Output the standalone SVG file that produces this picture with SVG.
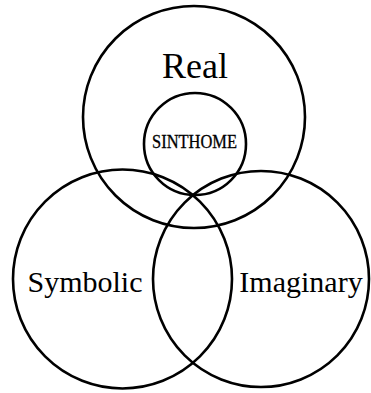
<svg xmlns="http://www.w3.org/2000/svg" width="371" height="393" viewBox="0 0 371 393">
<style>
.c{fill:none;stroke:#000;stroke-width:2.6}
.t{font-family:"Liberation Serif","DejaVu Serif",serif;fill:#000;text-anchor:middle}
</style>
<rect width="371" height="393" fill="#fff"/>
<g id="real"><circle class="c" cx="194" cy="117" r="111"/><text class="t" x="195" y="78" font-size="36">Real</text></g>
<g id="symbolic"><circle class="c" cx="122.5" cy="279" r="109.5"/><text class="t" x="85" y="292" font-size="30">Symbolic</text></g>
<g id="imaginary"><circle class="c" cx="261" cy="279" r="108"/><text class="t" x="301" y="292" font-size="30">Imaginary</text></g>
<g id="sinthome"><circle class="c" cx="195" cy="144" r="51"/><text class="t" x="194.5" y="148" font-size="18.5" textLength="85" lengthAdjust="spacingAndGlyphs" stroke="#000" stroke-width="0.3">SINTHOME</text></g>
<g id="connectors"></g>
</svg>
